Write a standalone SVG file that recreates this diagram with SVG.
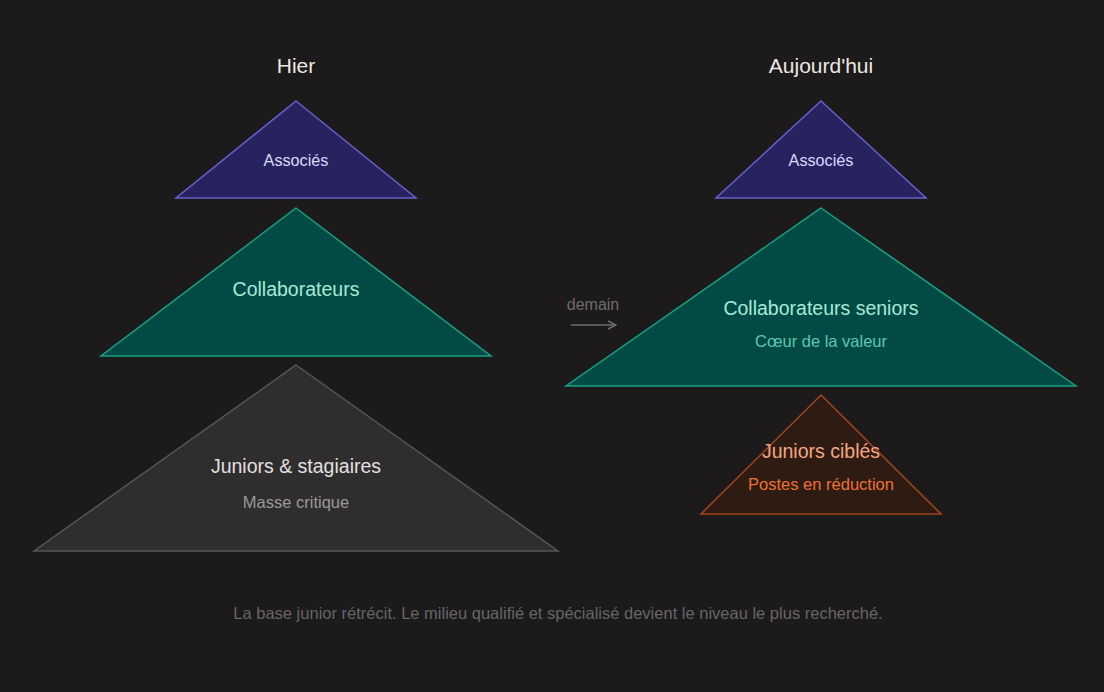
<svg xmlns="http://www.w3.org/2000/svg" width="1104" height="692" viewBox="0 0 1104 692">
<defs>
<style>
text{font-family:"Liberation Sans",Arial,sans-serif;text-anchor:middle}
.h{font-size:21px;fill:#ece8e0}
.a{fill:#27235f;stroke:#6a5fd0;stroke-width:1.5}
.at{font-size:16.2px;fill:#dcd8ff}
.c{fill:#024a44;stroke:#17a184;stroke-width:1.5}
.ct{font-size:19.5px;fill:#a6ead8}
.cs{font-size:16.5px;fill:#5cc8ac}
.j{fill:#2f2d2e;stroke:#575557;stroke-width:1.5}
.jt{font-size:19.5px;fill:#e2e0e0}
.js{font-size:16.5px;fill:#9a9898}
.o{fill:#2e1b12;stroke:#a3441e;stroke-width:1.5}
.ot{font-size:19.5px;fill:#f4a682}
.os{font-size:16.5px;fill:#ee7038}
</style>
<marker id="arr" viewBox="0 0 10 10" refX="9" refY="5" markerWidth="10" markerHeight="10" markerUnits="userSpaceOnUse" orient="auto"><path d="M1,1 L9,5 L1,9" fill="none" stroke="#6e6c6c" stroke-width="1.5"/></marker>
</defs>
<rect width="1104" height="692" fill="#1c1a1b"/>
<text class="h" x="296" y="73">Hier</text>
<text class="h" x="821" y="73">Aujourd'hui</text>
<g id="hier-associes"><polygon class="a" points="296,101 416,198 176,198"/><text class="at" x="296" y="166">Associés</text></g>
<g id="hier-collaborateurs"><polygon class="c" points="296,208 491,356 101,356"/><text class="ct" x="296" y="296">Collaborateurs</text></g>
<g id="hier-juniors"><polygon class="j" points="296,365 558,551 34,551"/><text class="jt" x="296" y="473">Juniors &amp; stagiaires</text><text class="js" x="296" y="508">Masse critique</text></g>
<g id="auj-associes"><polygon class="a" points="821,101 926,198 716,198"/><text class="at" x="821" y="166">Associés</text></g>
<g id="auj-collaborateurs"><polygon class="c" points="821,208 1076,386 566,386"/><text class="ct" x="821" y="315">Collaborateurs seniors</text><text class="cs" x="821" y="347">Cœur de la valeur</text></g>
<g id="auj-juniors"><polygon class="o" points="821,395 941,514 701,514"/><text class="ot" x="821" y="458">Juniors ciblés</text><text class="os" x="821" y="490">Postes en réduction</text></g>
<g id="connectors">
<text x="593" y="310" style="font-size:16px;fill:#6e6c6c">demain</text>
<line x1="571" y1="325" x2="616" y2="325" stroke="#6e6c6c" stroke-width="1.5" marker-end="url(#arr)"/>
</g>
<text x="558" y="619" style="font-size:16.5px;fill:#676566">La base junior rétrécit. Le milieu qualifié et spécialisé devient le niveau le plus recherché.</text>
</svg>
